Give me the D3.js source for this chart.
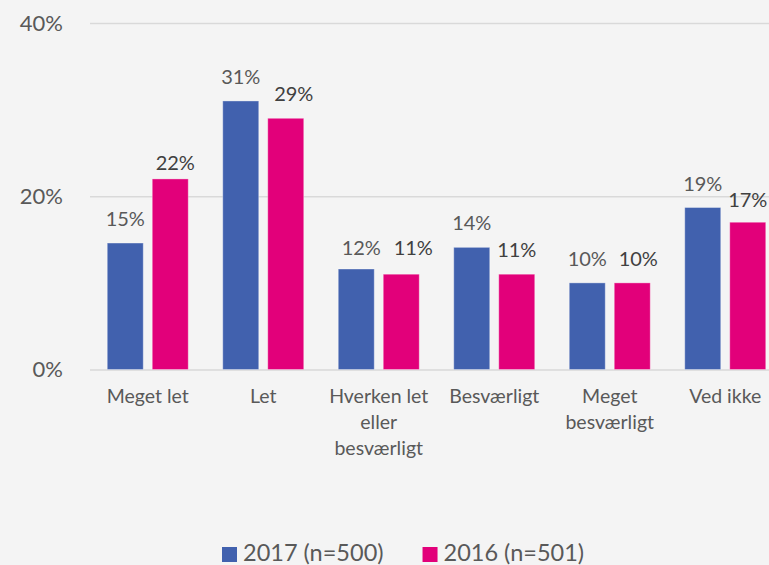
<!DOCTYPE html>
<html>
<head>
<meta charset="utf-8">
<script src="https://cdn.jsdelivr.net/npm/d3@7"></script>
<style>
  html, body { margin: 0; padding: 0; background: #f4f4f4; }
  svg { display: block; font-family: Lato, "Open Sans", sans-serif; }
</style>
</head>
<body>
<div id="chart"></div>
<script>
// Data
const categories = ["Meget let", "Let", "Hverken let eller besværligt", "Besværligt", "Meget besværligt", "Ved ikke"];
const seriesNames = ["2017 (n=500)", "2016 (n=501)"];
const values2017 = [0.146, 0.31, 0.116, 0.141, 0.10, 0.187];
const values2016 = [0.22, 0.29, 0.11, 0.11, 0.10, 0.17];
const yTicks = [0, 0.2, 0.4];

const colors = ["#4161ae", "#e2007a"];
const labelColors = ["#595959", "#404040"];

const width = 769, height = 565;
const margin = { left: 90, top: 23, bottom: 369.5 };

const svg = d3.select("#chart").append("svg")
  .attr("width", width)
  .attr("height", height);

svg.append("rect").attr("width", width).attr("height", height).attr("fill", "#f4f4f4");

// scales - plot runs past the right edge, like the original
const x0 = d3.scaleBand().domain(categories).range([margin.left, 783]).padding(0);
const x1 = d3.scaleBand().domain(seriesNames)
  .range([(x0.bandwidth() - 81) / 2, (x0.bandwidth() + 81) / 2])
  .paddingInner(0.2);
const y = d3.scaleLinear().domain([0, 0.4]).range([margin.bottom, margin.top]);

// grid + tick labels
const yAxis = svg.append("g")
  .attr("transform", `translate(${margin.left},0)`)
  .call(d3.axisLeft(y).tickValues(yTicks).tickSize(-(783 - margin.left)).tickPadding(27).tickFormat(d3.format(".0%")));
yAxis.select(".domain").remove();
yAxis.selectAll("line").attr("stroke", "#d9d9d9").attr("stroke-width", 1.6);
yAxis.selectAll("text")
  .attr("fill", "#595959")
  .style("font-size", "22px")
  .style("font-family", "Lato, 'Open Sans', sans-serif");

// bars
const rows = categories.map((c, i) => ({ cat: c, vals: [values2017[i], values2016[i]] }));

// small manual nudges for the data labels, as placed in the original
const nudge = { "0-1": [5, 8], "1-1": [8, 0], "2-0": [5, 3], "2-1": [12, -2], "4-1": [6, 0], "5-1": [0, 2] };

const groups = svg.selectAll(".grp").data(rows).enter().append("g")
  .attr("class", "grp")
  .attr("transform", d => `translate(${x0(d.cat)},0)`);

groups.selectAll("rect").data((d, i) => d.vals.map((v, j) => ({ v, j, i }))).enter().append("rect")
  .attr("x", d => x1(seriesNames[d.j]))
  .attr("width", x1.bandwidth())
  .attr("y", d => y(d.v))
  .attr("height", d => y(0) - y(d.v))
  .attr("fill", d => colors[d.j])
  .attr("stroke", "rgba(255,255,255,0.35)")
  .attr("stroke-width", 1);

groups.selectAll("text").data((d, i) => d.vals.map((v, j) => ({ v, j, i }))).enter().append("text")
  .attr("x", d => x1(seriesNames[d.j]) + x1.bandwidth() / 2 + (nudge[d.i + "-" + d.j] || [0, 0])[0])
  .attr("y", d => y(d.v) - 17 + (nudge[d.i + "-" + d.j] || [0, 0])[1])
  .attr("text-anchor", "middle")
  .attr("fill", d => labelColors[d.j])
  .style("font-size", "20px")
  .text(d => Math.round(d.v * 100) + "%");

// category labels (wrapped)
const catLabels = svg.selectAll(".cat").data(categories).enter().append("text")
  .attr("class", "cat")
  .attr("text-anchor", "middle")
  .attr("fill", "#595959")
  .style("font-size", "19.5px")
  .attr("x", d => x0(d) + x0.bandwidth() / 2)
  .attr("y", 403);

catLabels.each(function (d) {
  const t = d3.select(this);
  const words = d.split(" ");
  const cx = +t.attr("x");
  let line = [];
  let tspan = t.append("tspan").attr("x", cx).attr("dy", 0);
  words.forEach(w => {
    line.push(w);
    tspan.text(line.join(" "));
    if (tspan.node().getComputedTextLength() > 108 && line.length > 1) {
      line.pop();
      tspan.text(line.join(" "));
      line = [w];
      tspan = t.append("tspan").attr("x", cx).attr("dy", 26).text(w);
    }
  });
});

// legend
const legend = svg.append("g").attr("transform", "translate(222,547)");
let lx = 0;
seriesNames.forEach((s, i) => {
  legend.append("rect").attr("x", lx).attr("y", 0).attr("width", 15).attr("height", 15).attr("fill", colors[i]);
  const t = legend.append("text").attr("x", lx + 21).attr("y", 14)
    .attr("fill", "#595959").style("font-size", "23.5px").text(s);
  lx += 21 + t.node().getComputedTextLength() + 39;
});
</script>
</body>
</html>
